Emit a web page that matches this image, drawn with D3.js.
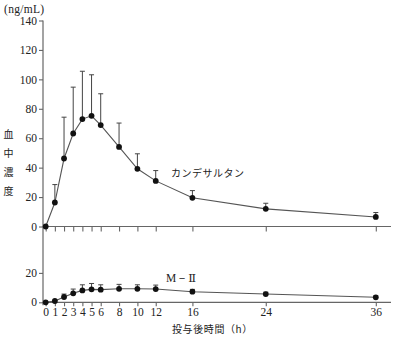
<!DOCTYPE html>
<html>
<head>
<meta charset="utf-8">
<script src="https://cdn.jsdelivr.net/npm/d3@7"></script>
<style>
  html, body { margin: 0; padding: 0; background: #fff; }
  svg { display: block; }
  .num { font-family: "Liberation Serif", "DejaVu Serif", serif; font-size: 11.5px; fill: #222; }
  .jp { font-family: "Noto Sans CJK JP", sans-serif; font-size: 10px; fill: #222; }
</style>
</head>
<body>
<svg id="chart" width="397" height="337"></svg>
<script>
// Sampling times (h)
const times = [0, 1, 2, 3, 4, 5, 6, 8, 10, 12, 16, 24, 36];
// Candesartan plasma concentration, mean and +SD (ng/mL)
const candesartanMean = [0, 16.3, 46.2, 63.2, 73.0, 75.2, 68.9, 54.1, 39.2, 31.0, 19.5, 12.0, 6.5];
const candesartanSD   = [0, 12.2, 28.1, 31.5, 32.5, 27.9, 21.3, 16.2, 10.2, 7.0, 4.9, 3.8, 3.0];
// Metabolite M-II plasma concentration, mean and +SD (ng/mL)
const m2Mean = [0, 0.9, 3.6, 6.1, 8.1, 8.8, 8.6, 9.2, 9.2, 9.0, 7.2, 5.6, 3.4];
const m2SD   = [0, 0.4, 2.0, 2.9, 3.8, 4.0, 3.3, 3.0, 2.7, 2.7, 1.6, 1.3, 1.0];
// Axis ticks
const xTicks = [0, 1, 2, 3, 4, 5, 6, 8, 10, 12, 16, 24, 36];
const yTopTicks = [0, 20, 40, 60, 80, 100, 120, 140];
const yBotTicks = [0, 20];

const svg = d3.select("#chart");
const axisColor = "#666";

const x = d3.scaleLinear().domain([0, 36]).range([45.7, 375.8]);
const yTop = d3.scaleLinear().domain([0, 140]).range([226.5, 20.5]);
const yBot = d3.scaleLinear().domain([0, 20]).range([302.3, 272.9]);

const axisLeftX = 43;
const axisRightX = 391;

// Vertical axis line shared by both panels
svg.append("line")
  .attr("x1", axisLeftX).attr("x2", axisLeftX)
  .attr("y1", yTop(140)).attr("y2", yBot(0) + 3)
  .attr("stroke", axisColor).attr("stroke-width", 1.2);

// Horizontal baselines
[yTop(0), yBot(0)].forEach(yy => {
  svg.append("line")
    .attr("x1", axisLeftX).attr("x2", axisRightX)
    .attr("y1", yy).attr("y2", yy)
    .attr("stroke", axisColor).attr("stroke-width", 1.2);
});

function styleAxis(g) {
  g.select(".domain").remove();
  g.selectAll(".tick line").attr("stroke", axisColor).attr("stroke-width", 1.1);
  g.selectAll(".tick text").attr("class", "num").attr("fill", "#222");
}

// Y axes
svg.append("g")
  .attr("transform", `translate(${axisLeftX},0)`)
  .call(d3.axisLeft(yTop).tickValues(yTopTicks).tickSize(4).tickPadding(2))
  .call(styleAxis);
svg.append("g")
  .attr("transform", `translate(${axisLeftX},0)`)
  .call(d3.axisLeft(yBot).tickValues(yBotTicks).tickSize(4).tickPadding(2))
  .call(styleAxis);

// X axes: top panel ticks only, bottom panel ticks with labels
svg.append("g")
  .attr("transform", `translate(0,${yTop(0)})`)
  .call(d3.axisBottom(x).tickValues(xTicks).tickSize(5).tickFormat(""))
  .call(styleAxis);
svg.append("g")
  .attr("transform", `translate(0,${yBot(0)})`)
  .call(d3.axisBottom(x).tickValues(xTicks).tickSize(4).tickPadding(2))
  .call(styleAxis);

function drawSeries(mean, sd, y) {
  const pts = times.map((t, i) => ({ t, m: mean[i], s: sd[i] }));
  const g = svg.append("g");
  // upward error bars with caps
  pts.filter(p => p.s > 0).forEach(p => {
    g.append("line")
      .attr("x1", x(p.t)).attr("x2", x(p.t))
      .attr("y1", y(p.m)).attr("y2", y(p.m + p.s))
      .attr("stroke", "#444").attr("stroke-width", 1);
    g.append("line")
      .attr("x1", x(p.t) - 2.5).attr("x2", x(p.t) + 2.5)
      .attr("y1", y(p.m + p.s)).attr("y2", y(p.m + p.s))
      .attr("stroke", "#444").attr("stroke-width", 1);
  });
  g.append("path")
    .datum(pts)
    .attr("fill", "none").attr("stroke", "#555").attr("stroke-width", 1.1)
    .attr("d", d3.line().x(p => x(p.t)).y(p => y(p.m)));
  g.selectAll("circle").data(pts).join("circle")
    .attr("cx", p => x(p.t)).attr("cy", p => y(p.m))
    .attr("r", 2.9).attr("fill", "#111");
}

drawSeries(candesartanMean, candesartanSD, yTop);
drawSeries(m2Mean, m2SD, yBot);

// Unit label
svg.append("text").attr("class", "num")
  .attr("x", 4).attr("y", 13)
  .attr("font-size", "12px").attr("letter-spacing", "0.3px")
  .text("(ng/mL)");

// Vertical y-axis title
["血", "中", "濃", "度"].forEach((ch, i) => {
  svg.append("text").attr("class", "jp")
    .attr("x", 8.5).attr("y", 133 + i * 19.3)
    .attr("text-anchor", "middle").attr("dominant-baseline", "central")
    .text(ch);
});

// Series labels
svg.append("text").attr("class", "jp")
  .attr("x", 171).attr("y", 172)
  .attr("dominant-baseline", "central")
  .attr("letter-spacing", "0.5px")
  .text("カンデサルタン");
svg.append("text").attr("class", "num")
  .attr("x", 166).attr("y", 278)
  .attr("dominant-baseline", "central")
  .text("M－Ⅱ");

// X axis title
svg.append("text").attr("class", "jp")
  .attr("x", 172).attr("y", 328)
  .attr("dominant-baseline", "central")
  .attr("letter-spacing", "0.6px")
  .text("投与後時間（h）");
</script>
</body>
</html>
